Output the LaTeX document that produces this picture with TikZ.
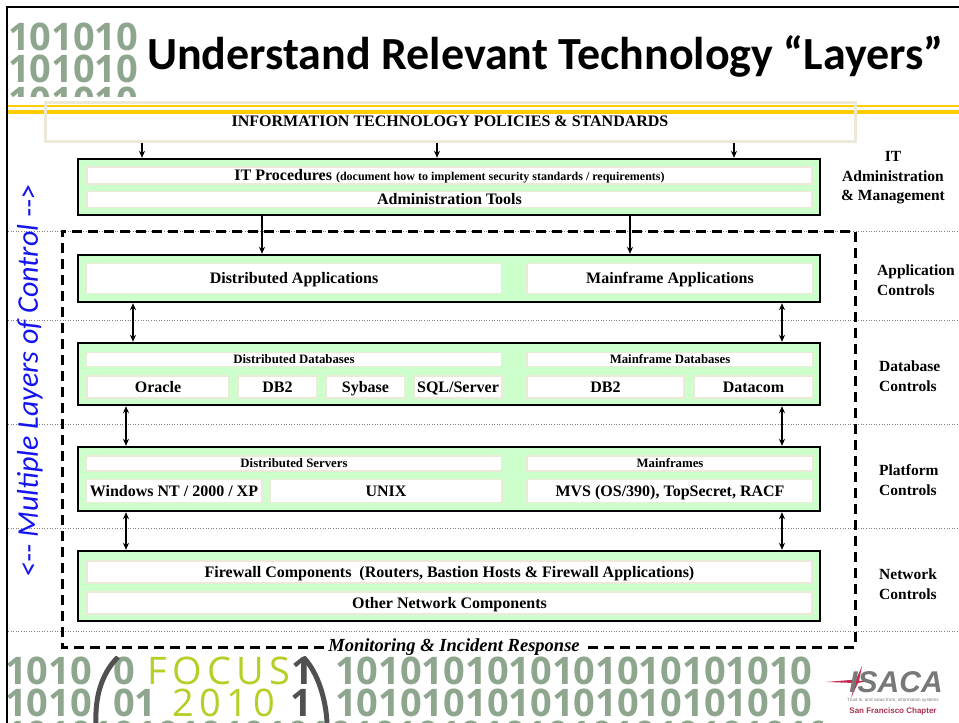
\documentclass[tikz,border=0pt]{standalone}
\usepackage{fontspec}
\usepackage{graphicx}
\setmainfont{Liberation Serif}
\newfontfamily\titlefont{Carlito}
\newfontfamily\digitfont{Open Sans}
\newfontfamily\focusfont{Open Sans}[LetterSpace=14]
\newfontfamily\logofont{Liberation Sans}
\usetikzlibrary{arrows.meta}

\definecolor{layergreen}{RGB}{204,255,204}
\definecolor{barline}{RGB}{236,233,216}
\definecolor{gold}{RGB}{255,204,0}
\definecolor{sideblue}{RGB}{20,20,240}
\definecolor{binary}{RGB}{142,165,142}
\definecolor{focusgreen}{RGB}{182,206,38}
\definecolor{ringgray}{RGB}{80,80,80}
\definecolor{isacagray}{RGB}{120,120,120}
\definecolor{isacared}{RGB}{196,44,78}
\definecolor{chapter}{RGB}{170,50,80}

\tikzset{
  layer/.style={draw=black, line width=2.4pt, fill=layergreen, minimum width=742pt, inner sep=0pt},
  bar/.style={draw=barline, line width=1.8pt, fill=white, inner sep=0pt,
    text height=12.5pt, text depth=2pt, font=\fontsize{16}{18}\selectfont\bfseries},
  subbar/.style={bar, text height=10pt, text depth=2pt, font=\fontsize{12.8}{15}\selectfont\bfseries},
  ctrl/.style={font=\fontsize{15.5}{19.5}\selectfont\bfseries, align=left, anchor=west, inner sep=0pt},
  arr/.style={line width=1.3pt, -{Stealth[length=7pt,width=6pt]}},
  dbl/.style={line width=1.3pt, {Stealth[length=7pt,width=6pt]}-{Stealth[length=7pt,width=6pt]}},
  sepline/.style={gray, line width=0.6pt, dotted},
  ctlframe/.style={line width=3pt, dash pattern=on 10pt off 6pt},
  bin/.style={font=\fontsize{38}{32}\selectfont\digitfont\bfseries, text=binary, inner sep=0pt,
    anchor=base west, text height=27pt, text depth=0pt},
  focusbin/.style={bin, font=\fontsize{38}{32}\selectfont\focusfont, text=focusgreen},
}

\begin{document}
\begin{tikzpicture}[x=1pt,y=-1pt]
% page
\fill[white] (0,0) rectangle (959,723);
\useasboundingbox (0,0) rectangle (959,723);

% binary emblem, top left
\begin{scope}
  \clip (8,18) rectangle (142,96);
  \node[bin] (embA) at (8,50) {101010};
  \node[bin] (embB) at (8,82) {101010};
  \node[bin] (embC) at (8,114) {101010};
\end{scope}

% title
\node[anchor=west, inner sep=0pt, font=\fontsize{46}{50}\selectfont\titlefont\bfseries]
  (title) at (147,56) {Understand Relevant Technology “Layers”};

% layer separators
\foreach \yy in {231,320,424,528,631}
  \draw[sepline] (8,\yy) -- (959,\yy);

% policies band
\node[draw=none, fill=white, minimum width=810pt, minimum height=39pt, inner sep=0pt]
  (polbg) at (450,121.5) {};
\draw[gold, line width=2pt] (8,106) -- (959,106);
\draw[gold, line width=4pt] (8,111.7) -- (959,111.7);
\node[draw=barline, line width=3pt, minimum width=810pt, minimum height=39pt, inner sep=0pt,
  font=\fontsize{16}{18}\selectfont\bfseries] (pol) at (450,121.5) {INFORMATION TECHNOLOGY POLICIES \& STANDARDS};

% outer frame of the slide
\draw[line width=2.4pt] (959,7) -- (7,7) -- (7,723);

% layers
\node[layer, minimum height=56pt] (it)   at (449,187) {};
\node[layer, minimum height=47pt] (app)  at (449,278.5) {};
\node[layer, minimum height=62pt] (db)   at (449,374) {};
\node[layer, minimum height=64pt] (plat) at (449,479) {};
\node[layer, minimum height=70pt] (net)  at (449,586) {};

% IT administration layer
\node[bar, minimum width=725pt, minimum height=17pt] (itproc) at (449.5,175.5)
  {IT Procedures {\fontsize{12}{14}\selectfont (document how to implement security standards / requirements)}};
\node[bar, minimum width=725pt, minimum height=16pt] (admtools) at (449.5,199.5) {Administration Tools};

% application layer
\node[bar, minimum width=415pt, minimum height=30pt] (distapp) at (294,278.5) {Distributed Applications};
\node[bar, minimum width=286pt, minimum height=30pt] (mfapp) at (670,278.5) {Mainframe Applications};

% database layer
\node[subbar, minimum width=415pt, minimum height=14pt] (distdb) at (294,359.5) {Distributed Databases};
\node[subbar, minimum width=286pt, minimum height=14pt] (mfdb) at (670,359.5) {Mainframe Databases};
\node[bar, minimum width=142pt, minimum height=22pt] (oracle) at (158,387) {Oracle};
\node[bar, minimum width=78pt, minimum height=22pt] (db2a) at (277.5,387) {DB2};
\node[bar, minimum width=78pt, minimum height=22pt] (sybase) at (365.5,387) {Sybase};
\node[bar, minimum width=88pt, minimum height=22pt] (sqlsrv) at (458,387) {SQL/Server};
\node[bar, minimum width=157pt, minimum height=22pt] (db2b) at (605.5,387) {DB2};
\node[bar, minimum width=118pt, minimum height=22pt] (datacom) at (753.5,387) {Datacom};

% platform layer
\node[subbar, minimum width=415pt, minimum height=15pt] (distsrv) at (294,463.5) {Distributed Servers};
\node[subbar, minimum width=286pt, minimum height=15pt] (mframes) at (670,463.5) {Mainframes};
\node[bar, minimum width=176pt, minimum height=23pt] (win) at (174,491) {Windows NT / 2000 / XP};
\node[bar, minimum width=232pt, minimum height=23pt] (unix) at (386,491) {UNIX};
\node[bar, minimum width=286pt, minimum height=23pt] (mvs) at (670,491) {MVS (OS/390), TopSecret, RACF};

% network layer
\node[bar, minimum width=725pt, minimum height=22pt] (fw) at (449.5,572) {Firewall Components~ (Routers, Bastion Hosts \& Firewall Applications)};
\node[bar, minimum width=725pt, minimum height=22pt] (othnet) at (449.5,603) {Other Network Components};

% connectors
\draw[arr] (142,0 |- pol.south) -- (142,0 |- it.north);
\draw[arr] (437,0 |- pol.south) -- (437,0 |- it.north);
\draw[arr] (734,0 |- pol.south) -- (734,0 |- it.north);
\draw[arr] (262,0 |- it.south) -- (262,0 |- app.north);
\draw[arr] (630,0 |- it.south) -- (630,0 |- app.north);
\draw[dbl] (133,0 |- app.south) -- (133,0 |- db.north);
\draw[dbl] (782,0 |- app.south) -- (782,0 |- db.north);
\draw[dbl] (126,0 |- db.south) -- (126,0 |- plat.north);
\draw[dbl] (782,0 |- db.south) -- (782,0 |- plat.north);
\draw[dbl] (126,0 |- plat.south) -- (126,0 |- net.north);
\draw[dbl] (782,0 |- plat.south) -- (782,0 |- net.north);

% monitoring frame around the controlled layers
\node[inner sep=4pt, font=\fontsize{18.5}{21}\selectfont\bfseries\itshape] (mon) at (454,647)
  {Monitoring \& Incident Response};
\draw[ctlframe] (mon.west) -- (62,0 |- mon.west) -- (62,231) -- (855,231) -- (855,0 |- mon.east) -- (mon.east);

% control labels
\node[font=\fontsize{15.5}{19.5}\selectfont\bfseries, align=center, inner sep=0pt] (itlbl) at (893,178)
  {IT\\Administration\\\& Management};
\node[ctrl] (applbl) at (877,280) {Application\\Controls};
\node[ctrl] (dblbl) at (879,376) {Database\\Controls};
\node[ctrl] (platlbl) at (879,480) {Platform\\Controls};
\node[ctrl] (netlbl) at (879,584) {Network\\Controls};

% side caption
\node[rotate=90, inner sep=0pt, text=sideblue, font=\fontsize{30}{34}\selectfont\titlefont\itshape]
  (side) at (30,381) {<-{}- Multiple Layers of Control -{}->};

% FOCUS 2010 banner
\begin{scope}
  \clip (8,656) rectangle (822,723);
  \node[bin] (f1a) at (5,684) {1010};
  \node[bin] (f1b) at (113,684) {0};
  \node[focusbin] (focus) at (147,684) {FOCUS};
  \node[bin, text=ringgray] (f1c) at (291,684) {1};
  \node[bin] (f1d) at (335,684) {1010101010101010101010};
  \node[bin] (f2a) at (5,716) {1010};
  \node[bin] (f2b) at (113,716) {01};
  \node[focusbin] (year) at (172,716) {2010};
  \node[bin, text=ringgray] (f2c) at (290,716) {1};
  \node[bin] (f2d) at (335,716) {1010101010101010101010};
  \node[bin] (f3a) at (5,748) {1010101010101010101010101010101010101010};
  \draw[ringgray, line width=5pt] (118,657) .. controls (100,675) and (95,700) .. (96,723);
  \draw[ringgray, line width=5pt] (303,657) .. controls (318,672) and (326,700) .. (327,723);
\end{scope}

% ISACA logo
\fill[isacared] (826,682) -- (856,679.5) -- (862,666) -- (859,681) -- (872,680) -- (858,683) -- (851,698) -- (855,683) -- cycle;
\node[anchor=base, inner sep=0pt, text=isacagray, font=\fontsize{30}{30}\selectfont\logofont\bfseries\itshape]
  (isaca) at (896,692) {ISACA};
\node[anchor=base, inner sep=0pt, text=isacagray, font=\fontsize{4.6}{5}\selectfont\logofont]
  (tagline) at (893,701) {Trust in, and value from, information systems};
\node[anchor=base, inner sep=0pt, text=chapter, font=\fontsize{8}{9}\selectfont\logofont\bfseries]
  (chap) at (893,713) {San Francisco Chapter};
\end{tikzpicture}
\end{document}
